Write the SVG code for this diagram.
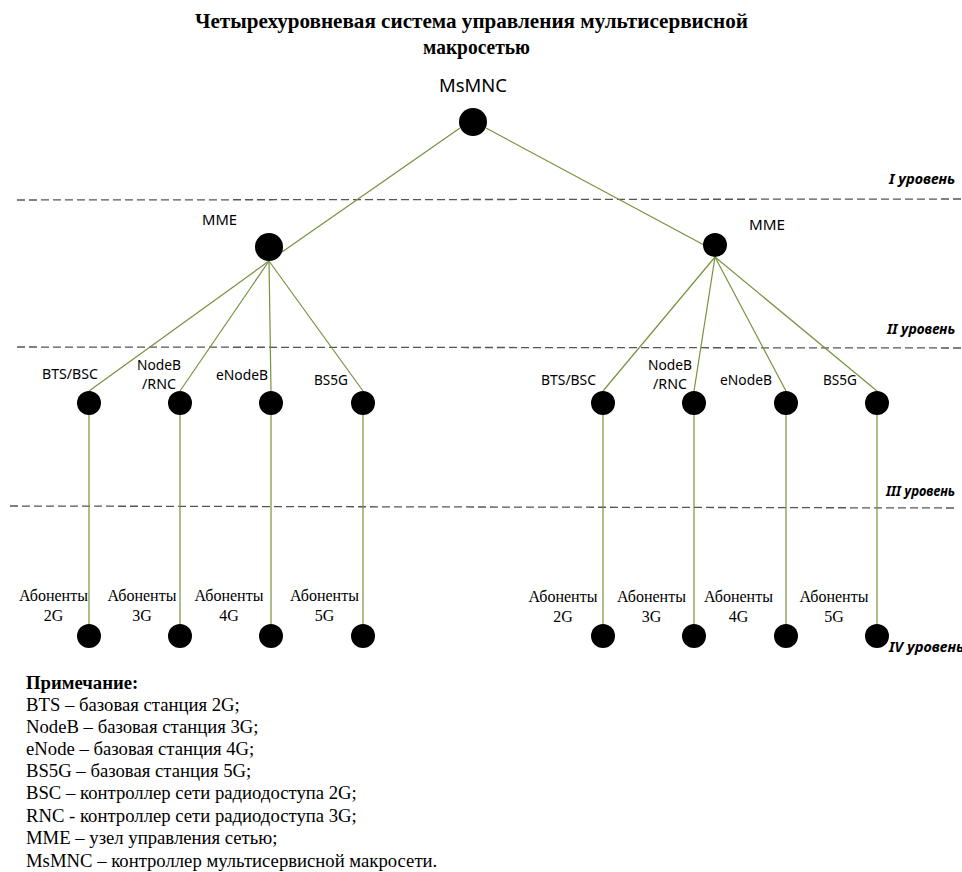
<svg xmlns="http://www.w3.org/2000/svg" width="962" height="872" viewBox="0 0 962 872">
<style>
.title{font-family:"Liberation Serif","Times New Roman",serif;font-weight:bold;font-size:21px;fill:#000;text-anchor:middle}
.lbl{font-family:"Noto Sans","Liberation Sans",sans-serif;font-size:14px;fill:#000;text-anchor:middle}
.big{font-family:"Noto Sans","Liberation Sans",sans-serif;font-size:18.5px;fill:#000;text-anchor:middle}
.lvl{font-family:"Noto Sans","Liberation Sans",sans-serif;font-size:13.5px;font-weight:bold;font-style:italic;fill:#000}
.ab{font-family:"Liberation Serif",serif;font-size:16px;fill:#000;text-anchor:middle}
.note{font-family:"Liberation Serif",serif;font-size:18.7px;fill:#000}
.dash{stroke:#555;stroke-width:1.3;stroke-dasharray:8 4;fill:none}
.con{stroke:#76923C;stroke-width:1.2;fill:none}
.node{fill:#000}
</style>
<rect width="962" height="872" fill="#fff"/>
<text class="title" x="471.5" y="28" textLength="553" lengthAdjust="spacingAndGlyphs">Четырехуровневая система управления мультисервисной</text>
<text class="title" x="476.5" y="54" textLength="107" lengthAdjust="spacingAndGlyphs">макросетью</text>

<g id="levels">
<line class="dash" x1="17" y1="200" x2="962" y2="199"/>
<line class="dash" x1="17" y1="347" x2="962" y2="348"/>
<line class="dash" x1="10" y1="506" x2="955" y2="508"/>
<text class="lvl" x="889" y="184" textLength="66" lengthAdjust="spacingAndGlyphs">I уровень</text>
<text class="lvl" x="887" y="334" textLength="68" lengthAdjust="spacingAndGlyphs">II уровень</text>
<text class="lvl" x="886" y="496" textLength="69" lengthAdjust="spacingAndGlyphs">III уровень</text>
<text class="lvl" x="889" y="652" textLength="75" lengthAdjust="spacingAndGlyphs">IV уровень</text>
</g>

<g id="connectors">
<line class="con" x1="460" y1="128" x2="282" y2="252"/>
<line class="con" x1="486" y1="128" x2="704" y2="245"/>
<line class="con" x1="269" y1="261" x2="89" y2="391"/>
<line class="con" x1="269" y1="261" x2="180" y2="391"/>
<line class="con" x1="269" y1="261" x2="271" y2="391"/>
<line class="con" x1="269" y1="261" x2="363" y2="391"/>
<line class="con" x1="715" y1="257" x2="603" y2="391"/>
<line class="con" x1="715" y1="257" x2="694" y2="391"/>
<line class="con" x1="715" y1="257" x2="786" y2="391"/>
<line class="con" x1="715" y1="257" x2="877" y2="391"/>
<line class="con" x1="89" y1="415" x2="89" y2="624"/>
<line class="con" x1="180" y1="415" x2="180" y2="624"/>
<line class="con" x1="271" y1="415" x2="271" y2="624"/>
<line class="con" x1="363" y1="415" x2="363" y2="624"/>
<line class="con" x1="603" y1="415" x2="603" y2="624"/>
<line class="con" x1="694" y1="415" x2="694" y2="624"/>
<line class="con" x1="786" y1="415" x2="786" y2="624"/>
<line class="con" x1="877" y1="415" x2="877" y2="624"/>
</g>

<g id="msmnc"><circle class="node" cx="473" cy="122" r="14"/><text class="big" x="473" y="92" textLength="68" lengthAdjust="spacingAndGlyphs">MsMNC</text></g>
<g id="mme-left"><circle class="node" cx="269" cy="247" r="14"/><text class="lbl" x="219.5" y="225" textLength="35" lengthAdjust="spacingAndGlyphs">MME</text></g>
<g id="mme-right"><circle class="node" cx="715" cy="245" r="12"/><text class="lbl" x="767" y="230" textLength="36" lengthAdjust="spacingAndGlyphs">MME</text></g>

<g id="bts-left"><circle class="node" cx="89" cy="403" r="12"/><text class="lbl" x="70" y="379" textLength="56" lengthAdjust="spacingAndGlyphs">BTS/BSC</text></g>
<g id="nodeb-left"><circle class="node" cx="180" cy="403" r="12"/><text class="lbl" x="159" y="370" textLength="44" lengthAdjust="spacingAndGlyphs">NodeB</text><text class="lbl" x="159" y="389" textLength="34" lengthAdjust="spacingAndGlyphs">/RNC</text></g>
<g id="enodeb-left"><circle class="node" cx="271" cy="403" r="12"/><text class="lbl" x="242" y="380" textLength="52" lengthAdjust="spacingAndGlyphs">eNodeB</text></g>
<g id="bs5g-left"><circle class="node" cx="363" cy="403" r="12"/><text class="lbl" x="331" y="385" textLength="34" lengthAdjust="spacingAndGlyphs">BS5G</text></g>

<g id="bts-right"><circle class="node" cx="603" cy="403" r="12"/><text class="lbl" x="568.5" y="385" textLength="55" lengthAdjust="spacingAndGlyphs">BTS/BSC</text></g>
<g id="nodeb-right"><circle class="node" cx="694" cy="403" r="12"/><text class="lbl" x="670" y="370" textLength="44" lengthAdjust="spacingAndGlyphs">NodeB</text><text class="lbl" x="670" y="389" textLength="34" lengthAdjust="spacingAndGlyphs">/RNC</text></g>
<g id="enodeb-right"><circle class="node" cx="786" cy="403" r="12"/><text class="lbl" x="746" y="385" textLength="52" lengthAdjust="spacingAndGlyphs">eNodeB</text></g>
<g id="bs5g-right"><circle class="node" cx="877" cy="403" r="12"/><text class="lbl" x="840" y="385" textLength="34" lengthAdjust="spacingAndGlyphs">BS5G</text></g>

<g id="ab2g-left"><circle class="node" cx="89" cy="636" r="12"/><text class="ab" x="53.5" y="601">Абоненты</text><text class="ab" x="53.5" y="621">2G</text></g>
<g id="ab3g-left"><circle class="node" cx="180" cy="636" r="12"/><text class="ab" x="142" y="601">Абоненты</text><text class="ab" x="142" y="621">3G</text></g>
<g id="ab4g-left"><circle class="node" cx="271" cy="636" r="12"/><text class="ab" x="229" y="601">Абоненты</text><text class="ab" x="229" y="621">4G</text></g>
<g id="ab5g-left"><circle class="node" cx="363" cy="636" r="12"/><text class="ab" x="324.5" y="601">Абоненты</text><text class="ab" x="324.5" y="621">5G</text></g>

<g id="ab2g-right"><circle class="node" cx="603" cy="636" r="12"/><text class="ab" x="563" y="602">Абоненты</text><text class="ab" x="563" y="622">2G</text></g>
<g id="ab3g-right"><circle class="node" cx="694" cy="636" r="12"/><text class="ab" x="651.5" y="602">Абоненты</text><text class="ab" x="651.5" y="622">3G</text></g>
<g id="ab4g-right"><circle class="node" cx="786" cy="636" r="12"/><text class="ab" x="738.5" y="602">Абоненты</text><text class="ab" x="738.5" y="622">4G</text></g>
<g id="ab5g-right"><circle class="node" cx="877" cy="636" r="12"/><text class="ab" x="834" y="602">Абоненты</text><text class="ab" x="834" y="622">5G</text></g>

<g id="note">
<text class="note" x="26" y="689" font-weight="bold">Примечание:</text>
<text class="note" x="26" y="711">BTS – базовая станция 2G;</text>
<text class="note" x="26" y="733">NodeB – базовая станция 3G;</text>
<text class="note" x="26" y="755">eNode – базовая станция 4G;</text>
<text class="note" x="26" y="777">BS5G – базовая станция 5G;</text>
<text class="note" x="26" y="799">BSC – контроллер сети радиодоступа 2G;</text>
<text class="note" x="26" y="822">RNC - контроллер сети радиодоступа 3G;</text>
<text class="note" x="26" y="844">MME – узел управления сетью;</text>
<text class="note" x="26" y="867">MsMNC – контроллер мультисервисной макросети.</text>
</g>
</svg>
